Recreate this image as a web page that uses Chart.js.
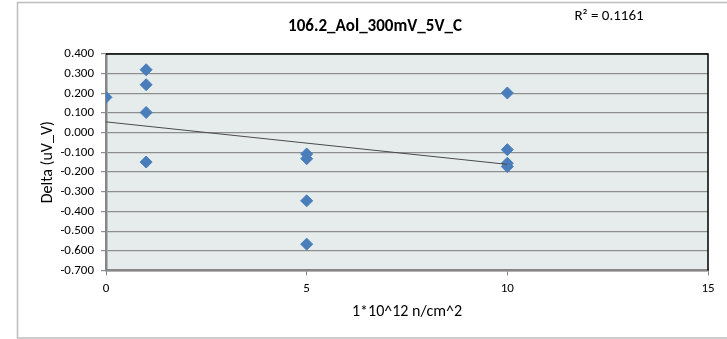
<!DOCTYPE html>
<html>
<head>
<meta charset="utf-8">
<script src="https://cdn.jsdelivr.net/npm/chart.js@4"></script>
<style>
  html, body { margin: 0; padding: 0; background: #fff; }
  #wrap { width: 727px; height: 339px; }
</style>
</head>
<body>
<div id="wrap"><canvas id="scatterChart" width="727" height="339"></canvas></div>
<script>
// fluence (1*10^12 n/cm^2) and delta values
const fluence = [0, 1, 1, 1, 1, 5, 5, 5, 5, 10, 10, 10, 10];
const delta = [0.180, 0.320, 0.244, 0.103, -0.149, -0.108, -0.132, -0.346, -0.566, 0.202, -0.086, -0.155, -0.172];
const xTicks = [0, 5, 10, 15];
const yTicks = [0.4, 0.3, 0.2, 0.1, 0.0, -0.1, -0.2, -0.3, -0.4, -0.5, -0.6, -0.7];
const chartTitle = '106.2_Aol_300mV_5V_C';
const rSquaredText = 'R\u00B2 = 0.1161';

const FONT = 'Carlito, Lato, "Liberation Sans", sans-serif';

// linear trendline (least squares), drawn over the data range like Excel does
function linearFit(xs, ys) {
  const n = xs.length;
  let sx = 0, sy = 0, sxy = 0, sxx = 0;
  for (let i = 0; i < n; i++) {
    sx += xs[i]; sy += ys[i];
    sxy += xs[i] * ys[i]; sxx += xs[i] * xs[i];
  }
  const slope = (n * sxy - sx * sy) / (n * sxx - sx * sx);
  const intercept = (sy - slope * sx) / n;
  return { slope, intercept };
}
const fit = linearFit(fluence, delta);
const xMin = Math.min(...fluence), xMax = Math.max(...fluence);
const trendPoints = [
  { x: xMin, y: fit.intercept + fit.slope * xMin },
  { x: xMax, y: fit.intercept + fit.slope * xMax }
];

const scatterPoints = fluence.map((x, i) => ({ x: x, y: delta[i] }));

// plot background, frame, outer border, title text
const decorations = {
  id: 'decorations',
  beforeDraw(chart) {
    const { ctx, chartArea: a } = chart;
    ctx.save();
    ctx.fillStyle = '#E6ECEC';
    ctx.fillRect(a.left, a.top, a.right - a.left, a.bottom - a.top);
    ctx.strokeStyle = '#BDBDBD';
    ctx.lineWidth = 1.5;
    ctx.strokeRect(17.5, 2.5, 800, 335.5);
    ctx.restore();
  },
  beforeDatasetsDraw(chart) {
    const { ctx, chartArea: a } = chart;
    ctx.save();
    ctx.strokeStyle = '#000';
    ctx.lineWidth = 1.5;
    ctx.beginPath();
    ctx.moveTo(a.left, a.top);
    ctx.lineTo(a.right, a.top);
    ctx.lineTo(a.right, a.bottom);
    ctx.stroke();
    ctx.restore();
  },
  afterDraw(chart) {
    const { ctx } = chart;
    ctx.save();
    ctx.fillStyle = '#000';
    ctx.textBaseline = 'middle';
    ctx.textAlign = 'center';
    ctx.font = 'bold 17px ' + FONT;
    ctx.fillText(chartTitle, 375, 27);
    ctx.font = '15px ' + FONT;
    ctx.fillText(rSquaredText, 609, 16);
    ctx.restore();
  }
};

new Chart(document.querySelector('#scatterChart'), {
  type: 'scatter',
  data: {
    datasets: [
      {
        type: 'line',
        label: 'Linear trend',
        data: trendPoints,
        borderColor: '#4a4a4a',
        borderWidth: 1,
        pointRadius: 0,
        fill: false,
        tension: 0
      },
      {
        label: 'Delta',
        data: scatterPoints,
        pointStyle: 'rectRot',
        pointRadius: 6,
        pointHoverRadius: 6,
        backgroundColor: '#4A7EBB',
        borderColor: '#4A7EBB',
        borderWidth: 1
      }
    ]
  },
  options: {
    responsive: false,
    animation: false,
    layout: { padding: { top: 54, right: 19, left: 0, bottom: 0 } },
    plugins: {
      legend: { display: false },
      tooltip: { enabled: false },
      title: { display: false }
    },
    scales: {
      x: {
        type: 'linear',
        min: 0,
        max: 15,
        afterFit(scale) { scale.height = 68.5; },
        afterBuildTicks(scale) { scale.ticks = xTicks.map(v => ({ value: v })); },
        ticks: { color: '#000', font: { family: FONT, size: 13 }, padding: 5 },
        grid: { drawOnChartArea: false, tickLength: 5, color: '#868686', lineWidth: 1 },
        border: { color: '#868686', width: 2.5 },
        title: {
          display: true,
          text: '1*10^12 n/cm^2',
          color: '#000',
          font: { family: FONT, size: 16 },
          padding: { top: 0, bottom: 17.5 }
        }
      },
      y: {
        min: -0.7,
        max: 0.4,
        afterFit(scale) { scale.width = 106; },
        afterBuildTicks(scale) { scale.ticks = yTicks.map(v => ({ value: v })); },
        ticks: {
          color: '#000',
          font: { family: FONT, size: 13 },
          padding: 7,
          callback: function (value) { return value.toFixed(3); }
        },
        grid: { color: '#8E8E8E', lineWidth: 1.2, tickLength: 5 },
        border: { color: '#868686', width: 2.5 },
        title: {
          display: true,
          text: 'Delta (uV_V)',
          color: '#000',
          font: { family: FONT, size: 16 },
          padding: { top: 38.5, bottom: 0 }
        }
      }
    }
  },
  plugins: [decorations]
});
</script>
</body>
</html>
